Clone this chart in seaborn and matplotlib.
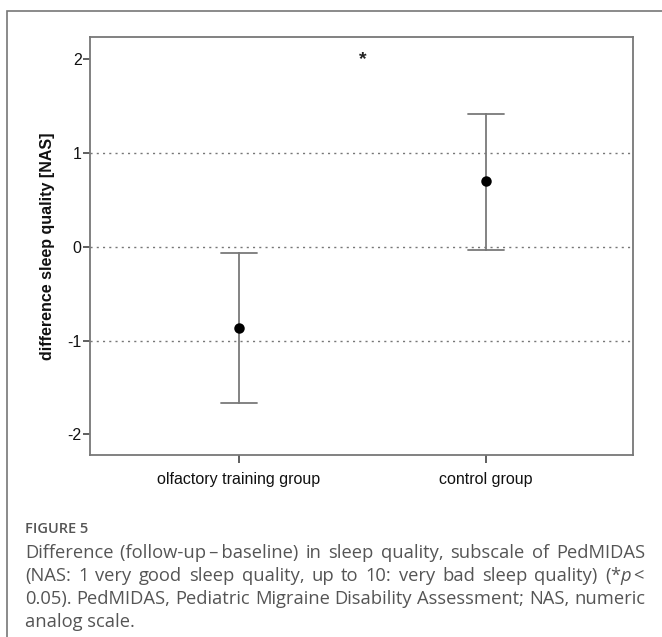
import pandas as pd
import matplotlib
matplotlib.use("Agg")
import matplotlib.pyplot as plt
import seaborn as sns
from matplotlib.patches import Rectangle

# data
groups = ["olfactory training group", "control group"]
mean_diff = [-0.87, 0.70]
ci_low = [-1.67, -0.03]
ci_high = [-0.07, 1.42]
y_ticks = [-2, -1, 0, 1, 2]
ref_lines = [-1, 0, 1]
y_label = "difference sleep quality [NAS]"
signif_mark = "*"

caption_title = "FIGURE 5"
caption_lines = [
    "Difference (follow-up\u2009\u2013\u2009baseline) in sleep quality, subscale of PedMIDAS",
    "(NAS: 1 very good sleep quality, up to 10: very bad sleep quality) (*$p\\,$<",
    "0.05). PedMIDAS, Pediatric Migraine Disability Assessment; NAS, numeric",
    "analog scale.",
]

# long table: lower bound, mean, upper bound per group -> median = mean, range = CI
rows = []
for g, lo, m, hi in zip(groups, ci_low, mean_diff, ci_high):
    for v in (lo, m, hi):
        rows.append({"group": g, "value": v})
df = pd.DataFrame(rows)

sns.set_style("ticks")
plt.rcParams["font.family"] = ["Liberation Sans", "DejaVu Sans"]
plt.rcParams["mathtext.fontset"] = "custom"
plt.rcParams["mathtext.rm"] = "Open Sans"
plt.rcParams["mathtext.it"] = "Open Sans:italic"

W, H = 662, 637
fig = plt.figure(figsize=(W / 100, H / 100), dpi=100)
ax = fig.add_axes([90 / W, 1 - 455 / H, (633 - 90) / W, (455 - 37) / H])

# outer frame of the figure panel
fig.patches.append(Rectangle((7 / W, -0.1), 1.2, 1.1 - 11 / H, transform=fig.transFigure,
                             fill=False, edgecolor="#777777", linewidth=1.2))

for v in ref_lines:
    ax.axhline(v, color="#777777", linewidth=1.0, linestyle=(0, (1.5, 3)), zorder=0)

sns.pointplot(data=df, x="group", y="value", order=groups, estimator="median",
              errorbar=lambda v: (v.min(), v.max()), capsize=0.146,
              err_kws={"color": "#7a7a7a", "linewidth": 1.3, "zorder": 1},
              color="black", linestyle="none", markers="o", markersize=5.5,
              zorder=3, ax=ax)

ax.text(0.5, 2.0, signif_mark, ha="center", va="center", fontsize=14,
        fontweight="bold", color="#222222")

ax.set_ylim(-2.22, 2.24)
ax.set_xlim(-0.603, 1.595)
ax.set_yticks(y_ticks)
ax.set_yticklabels([str(t) for t in y_ticks])
ax.set_xlabel("")
ax.set_ylabel(y_label, fontsize=11.5, fontweight="bold", color="#111111", labelpad=9)
ax.tick_params(axis="y", length=5, width=1.2, color="#444444", labelsize=11.5,
               labelcolor="#111111", pad=1)
ax.tick_params(axis="x", length=6, width=1.2, color="#444444", labelsize=11.5,
               labelcolor="#111111", pad=6)
for s in ax.spines.values():
    s.set_color("#777777")
    s.set_linewidth(1.3)

# caption
cap_kw = dict(fontsize=13.2, color="#555555", family="Open Sans", va="center")
fig.text(25 / W, 1 - 529 / H, caption_title, fontsize=10.5, color="#555555",
         family="Open Sans", fontweight="semibold", va="center")

renderer = fig.canvas.get_renderer()
x0, x1 = 25, 645
line_y = [553, 576, 599, 622]
for i, (line, ypx) in enumerate(zip(caption_lines, line_y)):
    if i == len(caption_lines) - 1:
        fig.text(x0 / W, 1 - ypx / H, line, **cap_kw)
        continue
    words = line.split(" ")
    texts = [fig.text(0, 1 - ypx / H, w, **cap_kw) for w in words]
    widths = [t.get_window_extent(renderer).width for t in texts]
    gap = (x1 - x0 - sum(widths)) / (len(words) - 1)
    x = x0
    for t, w in zip(texts, widths):
        t.set_x(x / W)
        x += w + gap

fig.savefig("out.png", dpi=100)
